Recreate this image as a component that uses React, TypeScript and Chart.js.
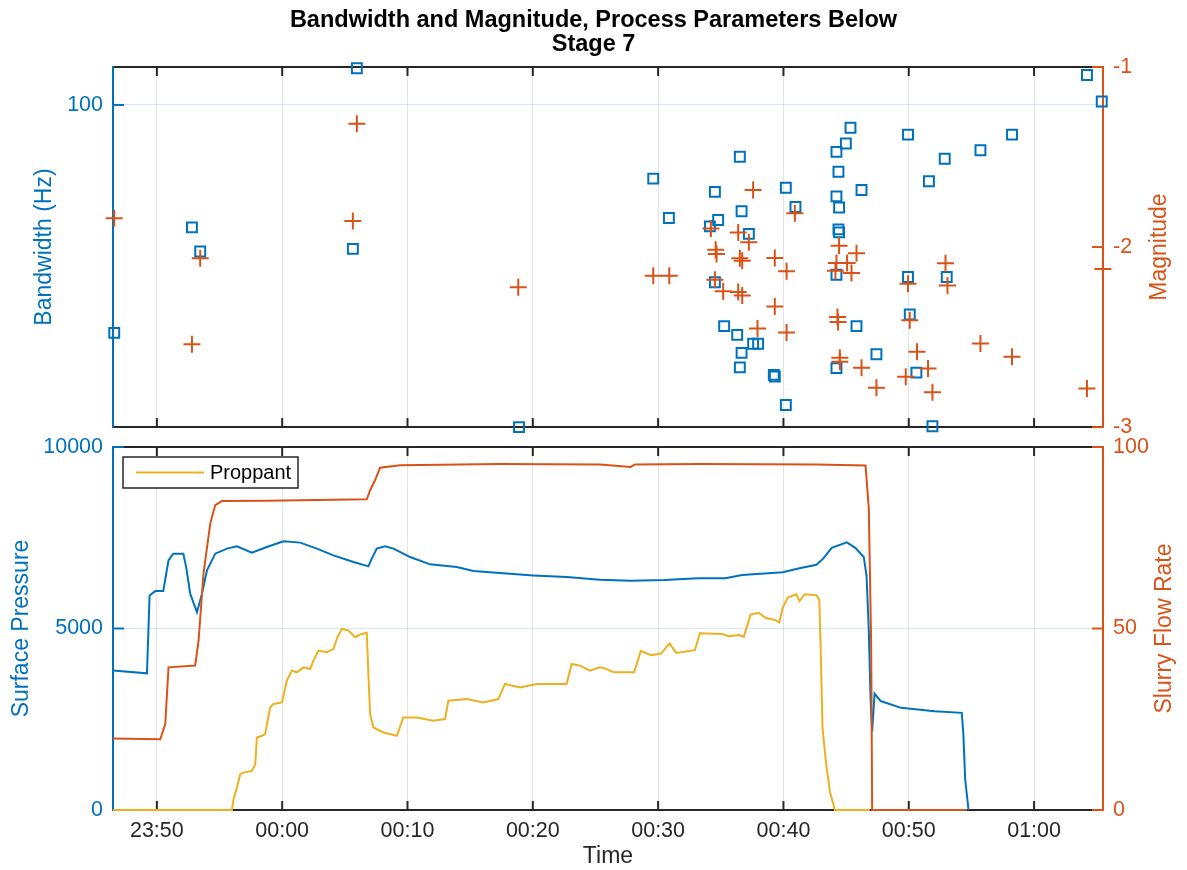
import React, { useEffect, useRef } from "react";
import { Chart, registerables } from "chart.js";

Chart.register(...registerables);

const FONT = '"Liberation Sans", Arial, Helvetica, sans-serif';
const BLUE = "#0072BD";
const ORANGE = "#D95319";
const YELLOW = "#EDB120";
const DARK = "#262626";
const GRID_X = "rgba(38,38,38,0.13)";
const GRID_Y = "rgba(0,114,189,0.16)";

// Time axis: minutes relative to 00:00
const xMin = -13.5;
const xMax = 65.5;
const xTickValues = [-10, 0, 10, 20, 30, 40, 50, 60];
const xTickLabels = ["23:50", "00:00", "00:10", "00:20", "00:30", "00:40", "00:50", "01:00"];

// Top panel axes
const bwMin = 40;
const bwMax = 111.4;
const bwTickValues = [100];
const magTickValues = [-3, -2, -1];

// Bottom panel axes
const pressureTickValues = [0, 5000, 10000];
const rateTickValues = [0, 50, 100];

// Bandwidth (Hz) events
const bwTime = [
  -13.4, -7.2, -6.54, 5.64, 5.96, 18.9, 29.61, 30.86, 34.53, 36.52,
  34.13, 34.79, 36.66, 37.24, 40.19, 40.96, 34.53, 35.27, 36.31, 37.58,
  37.98, 36.66, 36.52, 39.23, 39.31, 40.19, 45.35, 44.98, 44.23, 44.39,
  46.23, 44.23, 44.44, 44.39, 44.44, 44.23, 44.23, 45.83, 47.42, 49.94,
  51.61, 52.87, 49.94, 50.08, 50.61, 51.89, 53.03, 55.72, 58.24, 64.22,
  65.4,
];
const bwValues = [
  52.3, 70.6, 65.9, 66.4, 111.0, 40.0, 81.1, 72.5, 78.1, 86.3,
  70.8, 72.1, 73.9, 69.3, 79.0, 74.8, 60.4, 53.3, 52.0, 50.7,
  50.7, 49.4, 47.4, 46.4, 46.2, 42.6, 93.7, 89.6, 87.5, 82.7,
  78.5, 77.1, 74.7, 70.2, 69.6, 61.7, 47.3, 53.3, 49.2, 91.9,
  80.5, 85.8, 61.3, 55.1, 46.7, 40.1, 61.3, 87.9, 91.9, 108.9,
  101.0,
];

// Magnitude events
const magTime = [
  -13.4, -7.2, -6.54, 5.64, 5.96, 18.84, 29.61, 30.89, 37.58, 34.21,
  40.91, 36.39, 37.24, 34.59, 34.66, 36.52, 36.71, 39.31, 40.25, 34.53,
  35.19, 36.39, 36.71, 39.31, 37.93, 40.25, 44.44, 45.83, 44.23, 45.08,
  45.43, 44.15, 44.31, 44.36, 44.5, 44.5, 46.23, 47.42, 49.94, 50.08,
  50.66, 51.54, 49.76, 51.89, 52.93, 53.09, 55.72, 58.24, 65.49, 64.22,
];
const magValues = [
  -1.84, -2.54, -2.062, -1.855, -1.315, -2.223, -2.159, -2.159, -1.683, -1.897,
  -1.812, -1.919, -1.974, -2.015, -2.039, -2.062, -2.076, -2.061, -2.134, -2.182,
  -2.245, -2.25, -2.269, -2.33, -2.453, -2.475, -1.993, -2.035, -2.088, -2.088,
  -2.144, -2.131, -2.388, -2.416, -2.615, -2.637, -2.67, -2.781, -2.204, -2.407,
  -2.582, -2.674, -2.72, -2.807, -2.09, -2.214, -2.536, -2.609, -2.122, -2.785,
];

// Surface pressure
const pressureTime = [
  -13.5, -10.79, -10.58, -10.13, -9.49, -9.07, -8.69, -7.89, -7.66, -7.34,
  -6.8, -6.4, -6.0, -5.34, -4.41, -3.61, -2.42, -1.22, 0.1, 1.44,
  2.77, 4.09, 5.69, 6.88, 7.15, 7.55, 8.21, 8.88, 10.21, 11.8,
  13.93, 15.26, 17.38, 20.04, 22.7, 25.36, 27.81, 30.5, 33.2, 35.36,
  36.71, 39.94, 41.28, 42.63, 43.17, 43.85, 45.06, 45.73, 46.41, 46.63,
  46.81, 46.95, 47.08, 47.27, 47.76, 49.38, 52.07, 54.23, 54.36, 54.5,
  54.77,
];
const pressureValues = [
  3840, 3765, 5911, 6030, 6030, 6877, 7062, 7062, 6692, 5957,
  5450, 5957, 6601, 7062, 7200, 7264, 7090, 7245, 7402, 7366,
  7200, 7015, 6830, 6712, 6924, 7200, 7264, 7200, 6968, 6767,
  6692, 6582, 6527, 6463, 6416, 6344, 6317, 6336, 6383, 6383,
  6474, 6551, 6662, 6756, 6924, 7223, 7372, 7223, 6971, 6458,
  4963, 3096, 2163, 3207, 3002, 2814, 2721, 2676, 2069, 853,
  0,
];

// Slurry flow rate
const rateTime = [
  -13.5, -9.73, -9.33, -9.07, -6.94, -6.67, -6.28, -5.74, -5.34, -4.81,
  -1.22, 6.75, 7.02, 7.42, 7.81, 9.41, 17.38, 25.36, 27.81, 28.15,
  33.33, 42.63, 46.55, 46.81, 47.0, 47.08, 54.63,
];
const rateValues = [
  19.7, 19.5, 23.7, 39.3, 39.8, 46.7, 65.1, 78.9, 84.0, 85.1,
  85.2, 85.6, 88.1, 90.9, 94.3, 95.0, 95.3, 95.2, 94.5, 95.2,
  95.3, 95.2, 94.9, 83.2, 45.9, 0, 0,
];

// Proppant
const proppantTime = [
  -13.5, -4.01, -3.88, -3.61, -3.35, -3.09, -2.42, -2.15, -2.02, -1.62,
  -1.36, -0.96, -0.69, -0.02, 0.37, 0.77, 1.17, 1.7, 2.23, 2.5,
  2.89, 3.56, 4.09, 4.41, 4.76, 5.29, 5.82, 6.22, 6.75, 6.88,
  7.02, 7.28, 8.08, 9.15, 9.67, 10.74, 12.07, 13.0, 13.26, 14.73,
  16.05, 17.25, 17.78, 18.98, 20.31, 22.7, 23.1, 23.76, 24.56, 25.36,
  25.65, 26.46, 28.08, 28.62, 29.43, 30.23, 30.91, 31.45, 32.93, 33.33,
  35.09, 35.65, 36.44, 36.84, 37.38, 38.05, 38.59, 39.27, 39.67, 39.94,
  40.34, 41.02, 41.28, 41.69, 42.63, 42.86, 42.96, 43.12, 43.39, 43.72,
  44.11, 46.89,
];
const proppantValues = [
  0, 0, 295, 616, 986, 1030, 1077, 1262, 1997, 2044,
  2090, 2826, 2919, 2964, 3563, 3839, 3793, 3930, 3885, 4115,
  4392, 4346, 4438, 4760, 4991, 4944, 4760, 4834, 4880, 3748,
  2643, 2274, 2136, 2044, 2549, 2549, 2458, 2504, 3011, 3057,
  2964, 3057, 3472, 3378, 3472, 3472, 4024, 3978, 3839, 3930,
  3916, 3795, 3795, 4383, 4262, 4309, 4590, 4328, 4403, 4870,
  4850, 4790, 4822, 4775, 5383, 5430, 5289, 5242, 5168, 5571,
  5850, 5944, 5756, 5944, 5916, 5803, 4590, 2254, 1320, 481,
  0, 0,
];

const toXY = (xs: number[], ys: number[]) => xs.map((x, i) => ({ x, y: ys[i] }));

const tickFont = { family: FONT, size: 21.5 };
const labelFont = { family: FONT, size: 23 };

function seg(ctx: CanvasRenderingContext2D, x1: number, y1: number, x2: number, y2: number) {
  ctx.beginPath();
  ctx.moveTo(x1, y1);
  ctx.lineTo(x2, y2);
  ctx.stroke();
}

function framePlugin(leftId: string, rightId: string) {
  const tickLen = 9;
  return {
    id: "frame",
    beforeDatasetsDraw(chart: any) {
      const { ctx, chartArea: a, scales } = chart;
      ctx.save();
      ctx.lineWidth = 2;
      ctx.strokeStyle = DARK;
      seg(ctx, a.left, a.top, a.right, a.top);
      seg(ctx, a.left, a.bottom, a.right, a.bottom);
      for (const v of xTickValues) {
        const px = scales.x.getPixelForValue(v);
        seg(ctx, px, a.top, px, a.top + tickLen);
        seg(ctx, px, a.bottom, px, a.bottom - tickLen);
      }
      const L = scales[leftId];
      ctx.strokeStyle = BLUE;
      seg(ctx, a.left, a.top - 1, a.left, a.bottom + 1);
      L.ticks.forEach((t: any) => {
        const py = L.getPixelForValue(t.value);
        seg(ctx, a.left, py, a.left + tickLen + 2, py);
      });
      const R = scales[rightId];
      ctx.strokeStyle = ORANGE;
      seg(ctx, a.right, a.top - 1, a.right, a.bottom + 1);
      R.ticks.forEach((t: any) => {
        const py = R.getPixelForValue(t.value);
        seg(ctx, a.right, py, a.right - tickLen - 2, py);
      });
      ctx.restore();
    },
  };
}

function rightTitlePlugin(text: string, x: number) {
  return {
    id: "rightTitle",
    afterDraw(chart: any) {
      const { ctx, chartArea: a } = chart;
      ctx.save();
      ctx.translate(x, (a.top + a.bottom) / 2);
      ctx.rotate(-Math.PI / 2);
      ctx.font = `${labelFont.size}px ${FONT}`;
      ctx.fillStyle = ORANGE;
      ctx.textAlign = "center";
      ctx.textBaseline = "middle";
      ctx.fillText(text, 0, 0);
      ctx.restore();
    },
  };
}

const legendPlugin = {
  id: "insideLegend",
  afterDraw(chart: any) {
    const { ctx, chartArea: a } = chart;
    const x = a.left + 10;
    const y = a.top + 10;
    const w = 175;
    const h = 31;
    ctx.save();
    ctx.fillStyle = "#ffffff";
    ctx.fillRect(x, y, w, h);
    ctx.strokeStyle = DARK;
    ctx.lineWidth = 1.5;
    ctx.strokeRect(x, y, w, h);
    ctx.strokeStyle = YELLOW;
    ctx.lineWidth = 2;
    seg(ctx, x + 13, y + h / 2, x + 81, y + h / 2);
    ctx.fillStyle = "#000000";
    ctx.font = `20px ${FONT}`;
    ctx.textAlign = "left";
    ctx.textBaseline = "middle";
    ctx.fillText("Proppant", x + 87, y + h / 2 + 1);
    ctx.restore();
  },
};

function xScale(showLabels: boolean, height: number) {
  return {
    type: "linear",
    min: xMin,
    max: xMax,
    afterBuildTicks: (s: any) => {
      s.ticks = xTickValues.map((v) => ({ value: v }));
    },
    afterFit: (s: any) => {
      s.height = height;
    },
    grid: { color: GRID_X, lineWidth: 1, drawTicks: false },
    border: { display: false },
    ticks: {
      display: showLabels,
      autoSkip: false,
      maxRotation: 0,
      padding: 8,
      color: DARK,
      font: tickFont,
      callback: (v: number) => {
        const i = xTickValues.indexOf(v);
        return i >= 0 ? xTickLabels[i] : "";
      },
    },
    title: {
      display: showLabels,
      text: "Time",
      color: DARK,
      font: labelFont,
      padding: { top: 0, bottom: 0 },
    },
  };
}

function topConfig(): any {
  return {
    type: "scatter",
    data: {
      datasets: [
        {
          label: "Magnitude",
          data: toXY(magTime, magValues),
          yAxisID: "yR",
          pointStyle: "cross",
          radius: 8.5,
          borderColor: ORANGE,
          backgroundColor: ORANGE,
          borderWidth: 2,
          clip: false,
        },
        {
          label: "Bandwidth",
          data: toXY(bwTime, bwValues),
          yAxisID: "yL",
          pointStyle: "rect",
          radius: 7,
          borderColor: BLUE,
          backgroundColor: "rgba(0,0,0,0)",
          borderWidth: 2,
          clip: false,
        },
      ],
    },
    options: {
      animation: false,
      responsive: false,
      devicePixelRatio: 1,
      events: [],
      layout: { padding: 0 },
      plugins: {
        legend: { display: false },
        tooltip: { enabled: false },
        title: {
          display: true,
          text: ["Bandwidth and Magnitude, Process Parameters Below", "Stage 7"],
          color: "#000000",
          font: { family: FONT, size: 23.5, weight: "bold", lineHeight: 1.04 },
          padding: { top: 8, bottom: 10.1 },
        },
      },
      scales: {
        x: xScale(false, 20),
        yL: {
          type: "logarithmic",
          position: "left",
          min: bwMin,
          max: bwMax,
          afterBuildTicks: (s: any) => {
            s.ticks = bwTickValues.map((v) => ({ value: v }));
          },
          afterFit: (s: any) => {
            s.width = 113;
          },
          grid: { color: GRID_Y, drawTicks: false },
          border: { display: false },
          ticks: { color: BLUE, padding: 10, font: tickFont, autoSkip: false, callback: (v: number) => String(v) },
          title: { display: true, text: "Bandwidth (Hz)", color: BLUE, font: labelFont, padding: { top: 31, bottom: 0 } },
        },
        yR: {
          type: "linear",
          position: "right",
          min: -3,
          max: -1,
          afterBuildTicks: (s: any) => {
            s.ticks = magTickValues.map((v) => ({ value: v }));
          },
          afterFit: (s: any) => {
            s.width = 84;
          },
          grid: { display: false, drawTicks: false },
          border: { display: false },
          ticks: { color: ORANGE, padding: 10, font: tickFont, autoSkip: false, callback: (v: number) => String(v) },
        },
      },
    },
    plugins: [framePlugin("yL", "yR"), rightTitlePlugin("Magnitude", 1160)],
  };
}

function bottomConfig(): any {
  return {
    type: "line",
    data: {
      datasets: [
        {
          label: "Slurry Flow Rate",
          data: toXY(rateTime, rateValues),
          yAxisID: "yR",
          borderColor: ORANGE,
          borderWidth: 2,
          pointRadius: 0,
          tension: 0,
          clip: false,
        },
        {
          label: "Proppant",
          data: toXY(proppantTime, proppantValues),
          yAxisID: "yL",
          borderColor: YELLOW,
          borderWidth: 2,
          pointRadius: 0,
          tension: 0,
          clip: false,
        },
        {
          label: "Surface Pressure",
          data: toXY(pressureTime, pressureValues),
          yAxisID: "yL",
          borderColor: BLUE,
          borderWidth: 2,
          pointRadius: 0,
          tension: 0,
          clip: false,
        },
      ],
    },
    options: {
      animation: false,
      responsive: false,
      devicePixelRatio: 1,
      events: [],
      layout: { padding: { top: 27, left: 0, right: 0, bottom: 0 } },
      plugins: {
        legend: { display: false },
        tooltip: { enabled: false },
        title: { display: false },
      },
      scales: {
        x: xScale(true, 60),
        yL: {
          type: "linear",
          position: "left",
          min: 0,
          max: 10000,
          afterBuildTicks: (s: any) => {
            s.ticks = pressureTickValues.map((v) => ({ value: v }));
          },
          afterFit: (s: any) => {
            s.width = 113;
          },
          grid: { color: GRID_Y, drawTicks: false },
          border: { display: false },
          ticks: { color: BLUE, padding: 10, font: tickFont, autoSkip: false, callback: (v: number) => String(v) },
          title: { display: true, text: "Surface Pressure", color: BLUE, font: labelFont, padding: { top: 8, bottom: 0 } },
        },
        yR: {
          type: "linear",
          position: "right",
          min: 0,
          max: 100,
          afterBuildTicks: (s: any) => {
            s.ticks = rateTickValues.map((v) => ({ value: v }));
          },
          afterFit: (s: any) => {
            s.width = 84;
          },
          grid: { display: false, drawTicks: false },
          border: { display: false },
          ticks: { color: ORANGE, padding: 10, font: tickFont, autoSkip: false, callback: (v: number) => String(v) },
        },
      },
    },
    plugins: [framePlugin("yL", "yR"), legendPlugin, rightTitlePlugin("Slurry Flow Rate", 1165)],
  };
}

export default function App() {
  const topRef = useRef<HTMLCanvasElement>(null);
  const botRef = useRef<HTMLCanvasElement>(null);

  useEffect(() => {
    const top = new Chart(topRef.current as HTMLCanvasElement, topConfig());
    const bot = new Chart(botRef.current as HTMLCanvasElement, bottomConfig());
    return () => {
      top.destroy();
      bot.destroy();
    };
  }, []);

  return (
    <div style={{ position: "absolute", left: 0, top: 0, width: 1187, height: 870, background: "#ffffff" }}>
      <canvas ref={topRef} width={1187} height={450} style={{ position: "absolute", left: 0, top: 0 }} />
      <canvas ref={botRef} width={1187} height={450} style={{ position: "absolute", left: 0, top: 420 }} />
    </div>
  );
}
